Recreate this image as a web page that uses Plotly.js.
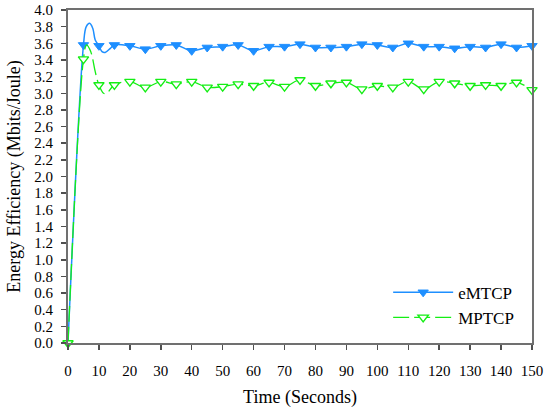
<!DOCTYPE html>
<html>
<head>
<meta charset="utf-8">
<script src="https://cdn.plot.ly/plotly-3.0.1.min.js"></script>
<style>
  html, body { margin: 0; padding: 0; background: #ffffff; }
  #chart { width: 544px; height: 412px; }
</style>
</head>
<body>
<div id="chart"></div>
<script>
// ---- data ----
const timeSec = [0, 5, 10, 15, 20, 25, 30, 35, 40, 45, 50, 55, 60, 65, 70, 75,
                 80, 85, 90, 95, 100, 105, 110, 115, 120, 125, 130, 135, 140, 145, 150];
const emtcp = [0, 3.58, 3.57, 3.58, 3.57, 3.53, 3.57, 3.58, 3.51, 3.55, 3.56, 3.58, 3.51, 3.56, 3.56, 3.59,
               3.55, 3.55, 3.56, 3.59, 3.58, 3.55, 3.60, 3.56, 3.56, 3.54, 3.56, 3.55, 3.59, 3.55, 3.57];
const mptcp = [0, 3.41, 3.10, 3.10, 3.14, 3.07, 3.14, 3.11, 3.14, 3.07, 3.08, 3.11, 3.09, 3.13, 3.08, 3.16,
               3.09, 3.12, 3.13, 3.05, 3.09, 3.07, 3.14, 3.05, 3.14, 3.12, 3.09, 3.10, 3.09, 3.13, 3.04];
// start-up transient of the fitted curves (between the plotted symbols)
const emtcpTransientTime = [5.9, 7.0, 8.0, 8.8, 11.0, 12.0, 13.7];
const emtcpTransient     = [3.80, 3.84, 3.78, 3.64, 3.50, 3.49, 3.54];
const mptcpTransientTime = [6.0, 7.0, 7.7, 8.8, 11.5, 12.5];
const mptcpTransient     = [3.58, 3.53, 3.46, 3.26, 3.00, 3.00];
// times that carry a symbol
const emtcpSymbolTimes = timeSec.filter(t => t > 0);
const mptcpSymbolTimes = timeSec.slice();
const legendNames = ['eMTCP', 'MPTCP'];

function buildCurve(tx, ty, ex, ey, symbolTimes) {
  const pts = [];
  tx.forEach((t, i) => pts.push([t, ty[i]]));
  ex.forEach((t, i) => pts.push([t, ey[i]]));
  pts.sort((a, b) => a[0] - b[0]);
  const x = pts.map(p => p[0]);
  const y = pts.map(p => p[1]);
  const sel = [];
  x.forEach((t, i) => { if (symbolTimes.indexOf(t) >= 0) sel.push(i); });
  return { x, y, sel };
}

const eCurve = buildCurve(timeSec, emtcp, emtcpTransientTime, emtcpTransient, emtcpSymbolTimes);
const mCurve = buildCurve(timeSec, mptcp, mptcpTransientTime, mptcpTransient, mptcpSymbolTimes);

const blue = '#1e8fff';
const green = '#14ee14';
const serif = '"Liberation Serif", "DejaVu Serif", serif';

const traces = [
  {
    x: eCurve.x, y: eCurve.y, name: legendNames[0],
    type: 'scatter', mode: 'lines+markers', cliponaxis: false,
    line: { color: blue, width: 1.5, shape: 'spline', smoothing: 1 },
    marker: { symbol: 'triangle-down', size: 9, color: blue, line: { color: blue, width: 1 } },
    selectedpoints: eCurve.sel,
    selected: { marker: { opacity: 1 } },
    unselected: { marker: { opacity: 0 } }
  },
  {
    x: mCurve.x, y: mCurve.y, name: legendNames[1],
    type: 'scatter', mode: 'lines+markers', cliponaxis: false,
    line: { color: green, width: 1.3, shape: 'spline', smoothing: 1, dash: '16px,5px' },
    marker: { symbol: 'triangle-down', size: 9, color: '#ffffff', line: { color: green, width: 1.4 } },
    selectedpoints: mCurve.sel,
    selected: { marker: { opacity: 1 } },
    unselected: { marker: { opacity: 0 } }
  }
];

const axisCommon = {
  showgrid: false, zeroline: false,
  showline: true, linecolor: '#707070', linewidth: 2, mirror: true,
  ticks: 'outside', ticklen: 5, tickwidth: 1.5, tickcolor: '#505050',
  tickfont: { family: serif, size: 15, color: '#000000' }
};

const layout = {
  width: 544, height: 412,
  margin: { l: 68, r: 12, t: 10, b: 69, pad: 0 },
  paper_bgcolor: '#ffffff', plot_bgcolor: '#ffffff',
  font: { family: serif, color: '#000000' },
  showlegend: true,
  xaxis: Object.assign({}, axisCommon, {
    range: [0, 150], dtick: 10, tick0: 0, ticklabelstandoff: 8,
    title: { text: 'Time (Seconds)', font: { family: serif, size: 18, color: '#000000' }, standoff: 12 }
  }),
  yaxis: Object.assign({}, axisCommon, {
    range: [0, 4], dtick: 0.2, tick0: 0, tickformat: '.1f', ticklabelstandoff: 5,
    title: { text: 'Energy Efficiency (Mbits/Joule)', font: { family: serif, size: 18, color: '#000000' }, standoff: 9 }
  }),
  legend: {
    x: 0.69, y: 0.205, xanchor: 'left', yanchor: 'top',
    bgcolor: 'rgba(0,0,0,0)', borderwidth: 0,
    font: { family: serif, size: 17, color: '#000000' },
    itemwidth: 60, tracegroupgap: 0
  }
};

Plotly.newPlot('chart', traces, layout, { staticPlot: true, displayModeBar: false });
</script>
</body>
</html>
